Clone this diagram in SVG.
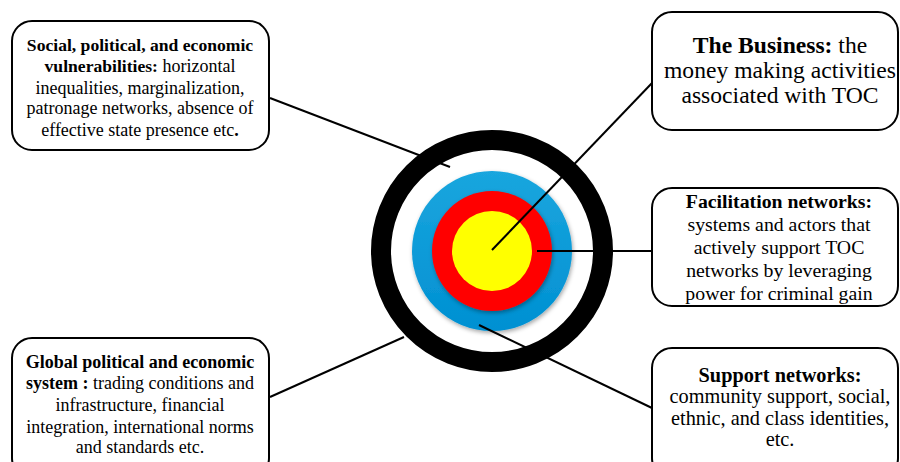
<svg xmlns="http://www.w3.org/2000/svg" width="900" height="462" viewBox="0 0 900 462">
<defs>
<linearGradient id="blue" x1="0" y1="0" x2="0" y2="1">
<stop offset="0" stop-color="#1aa6de"/>
<stop offset="1" stop-color="#0090d2"/>
</linearGradient>
<filter id="sh" x="-20%" y="-20%" width="140%" height="140%">
<feDropShadow dx="1" dy="2" stdDeviation="2" flood-color="#000" flood-opacity="0.35"/>
</filter>
</defs>
<style>
.box{fill:#fff;stroke:#000;stroke-width:2}
.b{font-weight:bold}
.c{stroke:#000;stroke-width:2;fill:none}
</style>
<rect width="900" height="462" fill="#fff"/>
<g id="target">
<circle cx="492" cy="251" r="111" fill="none" stroke="#000" stroke-width="20"/>
<circle cx="492" cy="251" r="80" fill="url(#blue)" filter="url(#sh)"/>
<circle cx="492" cy="251" r="60" fill="#ff0000" filter="url(#sh)"/>
<circle cx="492" cy="251" r="40" fill="#ffff00"/>
</g>
<g id="connectors">
<line class="c" x1="270" y1="98" x2="450" y2="167"/>
<line class="c" x1="492" y1="250" x2="652" y2="83"/>
<line class="c" x1="537" y1="251" x2="652" y2="251"/>
<line class="c" x1="479" y1="325" x2="652" y2="408"/>
<line class="c" x1="270" y1="397" x2="404" y2="337"/>
</g>
<g id="social">
<rect class="box" x="12" y="21" width="257" height="129" rx="20"/>
<text style="font-family:'Liberation Serif',serif" text-anchor="middle" font-size="18"><tspan x="140" y="51" class="b" font-size="17.6">Social, political, and economic</tspan><tspan x="140" y="72"><tspan class="b" font-size="17.6">vulnerabilities:</tspan> horizontal</tspan><tspan x="140" y="94">inequalities, marginalization,</tspan><tspan x="140" y="114">patronage networks, absence of</tspan><tspan x="140" y="136">effective state presence etc<tspan class="b">.</tspan></tspan></text>
</g>
<g id="business">
<rect class="box" x="652" y="12" width="246" height="118" rx="20"/>
<text style="font-family:'Liberation Serif',serif" text-anchor="middle" font-size="23.6"><tspan x="780" y="53"><tspan class="b">The Business:</tspan> the</tspan><tspan x="780" y="78">money making activities</tspan><tspan x="780" y="103">associated with TOC</tspan></text>
</g>
<g id="facilitation">
<rect class="box" x="652" y="188" width="246" height="118" rx="20"/>
<text style="font-family:'Liberation Serif',serif" text-anchor="middle" font-size="19.8"><tspan x="779" y="208" class="b">Facilitation networks:</tspan><tspan x="779" y="231">systems and actors that</tspan><tspan x="779" y="254">actively support TOC</tspan><tspan x="779" y="277">networks by leveraging</tspan><tspan x="779" y="300">power for criminal gain</tspan></text>
</g>
<g id="global">
<rect class="box" x="12" y="338" width="257" height="140" rx="20"/>
<text style="font-family:'Liberation Serif',serif" text-anchor="middle" font-size="18"><tspan x="140" y="368" class="b">Global political and economic</tspan><tspan x="140" y="389"><tspan class="b">system :</tspan> trading conditions and</tspan><tspan x="140" y="411">infrastructure, financial</tspan><tspan x="140" y="433">integration, international norms</tspan><tspan x="140" y="453">and standards etc.</tspan></text>
</g>
<g id="support">
<rect class="box" x="652" y="348" width="246" height="130" rx="20"/>
<text style="font-family:'Liberation Serif',serif" text-anchor="middle" font-size="20.3"><tspan x="780" y="382" class="b">Support networks:</tspan><tspan x="780" y="403">community support, social,</tspan><tspan x="780" y="425">ethnic, and class identities,</tspan><tspan x="780" y="446">etc.</tspan></text>
</g>
</svg>
